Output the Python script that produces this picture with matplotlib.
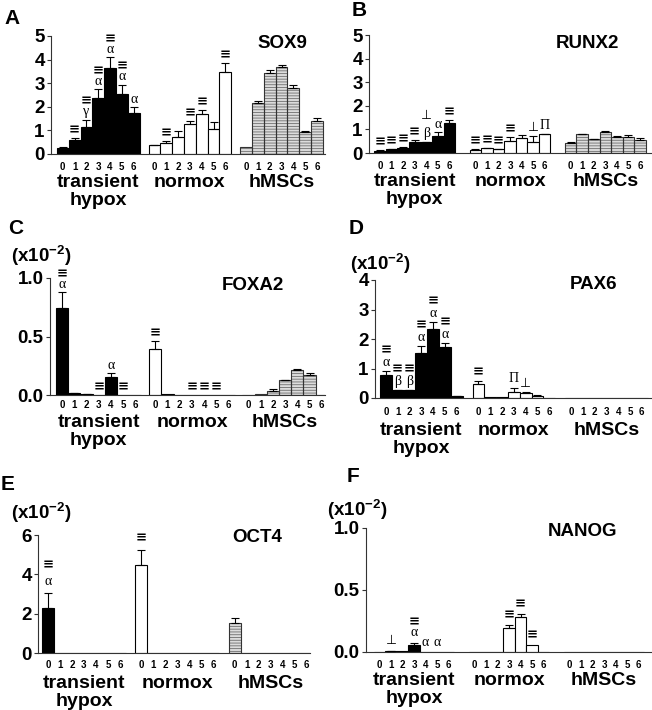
import numpy as np
import matplotlib
matplotlib.use('Agg')
import matplotlib.pyplot as plt

plt.rcParams['font.family'] = ['Liberation Sans', 'DejaVu Sans']
plt.rcParams['font.weight'] = 'bold'
plt.rcParams['mathtext.fontset'] = 'custom'
plt.rcParams['mathtext.rm'] = 'Liberation Sans:bold'
plt.rcParams['mathtext.bf'] = 'Liberation Sans:bold'
plt.rcParams['hatch.linewidth'] = 0.6

days = ['0', '1', '2', '3', '4', '5', '6']
groups = ['transient', 'normox', 'hMSCs']

# SOX9
sox9_trans = [0.25, 0.59, 1.16, 2.36, 3.64, 2.54, 1.74]
sox9_trans_err = [0.03, 0.07, 0.30, 0.38, 0.45, 0.40, 0.24]
sox9_norm = [0.37, 0.45, 0.71, 1.29, 1.68, 1.07, 3.46]
sox9_norm_err = [0.03, 0.10, 0.27, 0.12, 0.17, 0.30, 0.40]
sox9_hmsc = [0.29, 2.14, 3.44, 3.67, 2.78, 0.92, 1.40]
sox9_hmsc_err = [0.0, 0.10, 0.14, 0.11, 0.13, 0.05, 0.11]
sox9_marks_t = [[], ['≡'], ['γ', '≡'], ['α', '≡'], ['α', '≡'], ['α', '≡'], ['α']]
sox9_marks_n = [[], ['≡'], [], ['≡'], ['≡'], [], ['≡']]

# RUNX2
runx2_trans = [0.10, 0.17, 0.22, 0.48, 0.46, 0.74, 1.26]
runx2_trans_err = [0.01, 0.02, 0.02, 0.08, 0.02, 0.14, 0.14]
runx2_norm = [0.14, 0.21, 0.15, 0.49, 0.62, 0.48, 0.79]
runx2_norm_err = [0.02, 0.02, 0.03, 0.17, 0.15, 0.25, 0.02]
runx2_hmsc = [0.43, 0.79, 0.58, 0.88, 0.69, 0.69, 0.55]
runx2_hmsc_err = [0.02, 0.02, 0.01, 0.06, 0.02, 0.06, 0.08]
runx2_marks_t = [['≡'], ['≡'], ['≡'], ['≡'], ['β', '⊥'], ['α'], ['≡']]
runx2_marks_n = [['≡'], ['≡'], ['≡'], ['≡'], [], ['⊥'], ['Π']]

# FOXA2 (x10^-2)
foxa2_trans = [0.74, 0.014, 0.010, 0.0, 0.156, 0.0, 0.0]
foxa2_trans_err = [0.14, 0.003, 0.002, 0.0, 0.03, 0.0, 0.0]
foxa2_norm = [0.39, 0.005, 0.0, 0.0, 0.0, 0.0, 0.0]
foxa2_norm_err = [0.07, 0.0, 0.0, 0.0, 0.0, 0.0, 0.0]
foxa2_hmsc = [0.0, 0.006, 0.037, 0.128, 0.214, 0.171, 0.0]
foxa2_hmsc_err = [0.0, 0.0, 0.012, 0.003, 0.005, 0.02, 0.0]
foxa2_marks_t = [['α', '≡'], [], [], ['≡'], ['α'], ['≡'], []]
foxa2_marks_n = [['≡'], [], [], ['≡'], ['≡'], ['≡'], []]

# PAX6 (x10^-2)
pax6_trans = [0.79, 0.26, 0.26, 1.52, 2.33, 1.72, 0.06]
pax6_trans_err = [0.11, 0.01, 0.01, 0.23, 0.23, 0.14, 0.01]
pax6_norm = [0.47, 0.02, 0.02, 0.22, 0.18, 0.07, 0.0]
pax6_norm_err = [0.09, 0.0, 0.0, 0.13, 0.02, 0.02, 0.0]
pax6_hmsc = [0.0, 0.0, 0.0, 0.0, 0.0, 0.0, 0.0]
pax6_hmsc_err = [0.0, 0.0, 0.0, 0.0, 0.0, 0.0, 0.0]
pax6_marks_t = [['α', '≡'], ['β', '≡'], ['β', '≡'], ['α', '≡'], ['α', '≡'], ['α', '≡'], []]
pax6_marks_n = [['≡'], [], [], ['Π'], ['⊥'], [], []]

# OCT4 (x10^-2)
oct4_trans = [2.31, 0.0, 0.0, 0.0, 0.0, 0.0, 0.0]
oct4_trans_err = [0.72, 0.0, 0.0, 0.0, 0.0, 0.0, 0.0]
oct4_norm = [4.50, 0.0, 0.0, 0.0, 0.0, 0.0, 0.0]
oct4_norm_err = [0.72, 0.0, 0.0, 0.0, 0.0, 0.0, 0.0]
oct4_hmsc = [1.55, 0.0, 0.0, 0.0, 0.0, 0.0, 0.0]
oct4_hmsc_err = [0.24, 0.0, 0.0, 0.0, 0.0, 0.0, 0.0]
oct4_marks_t = [['α', '≡'], [], [], [], [], [], []]
oct4_marks_n = [['≡'], [], [], [], [], [], []]

# NANOG (x10^-2)
nanog_trans = [0.003, 0.008, 0.006, 0.054, 0.0, 0.0, 0.0]
nanog_trans_err = [0.0, 0.003, 0.0, 0.019, 0.0, 0.0, 0.0]
nanog_norm = [0.003, 0.004, 0.004, 0.195, 0.284, 0.054, 0.0]
nanog_norm_err = [0.0, 0.0, 0.0, 0.021, 0.026, 0.0, 0.0]
nanog_hmsc = [0.0, 0.0, 0.0, 0.0, 0.0, 0.0, 0.0]
nanog_hmsc_err = [0.0, 0.0, 0.0, 0.0, 0.0, 0.0, 0.0]
nanog_marks_t = [[], ['⊥'], [], ['α', '≡'], ['α'], ['α'], []]
nanog_marks_n = [[], [], [], ['≡'], ['≡'], ['≡'], []]

W, H = 652, 710
fig = plt.figure(figsize=(W / 100, H / 100), dpi=100)
PT = 72 / 100  # points per pixel


def px_rect(left, top, width, height):
    return [left / W, 1 - (top + height) / H, width / W, height / H]


def draw_mark(ax, s, x, y, dy):
    if s == '≡':
        kw = dict(family='DejaVu Sans', fontsize=9.5, fontweight='bold')
    elif s == '⊥':
        kw = dict(family='DejaVu Sans', fontsize=9, fontweight='normal')
    else:
        kw = dict(family=['Liberation Serif', 'DejaVu Serif'], fontsize=10, fontweight='normal')
    ax.annotate(s, xy=(x, y), xytext=(0, dy * PT), textcoords='offset points',
                ha='center', va='center', color='black', **kw)


def panel(rect, gap, xlim, ylim, yticks, yfmt, gene, gene_pos, series, marks,
          digit_pad, label_off, base=8, step=10.5):
    ax = fig.add_axes(px_rect(*rect))
    styles = ['trans', 'norm', 'hmsc']
    for g, (vals, errs) in enumerate(series):
        x = g * (7 + gap) + np.arange(7)
        vals = np.array(vals)
        errs = np.array(errs)
        if styles[g] == 'trans':
            ax.bar(x, vals, 1.0, color='black', edgecolor='black', lw=0.8, zorder=2)
        elif styles[g] == 'norm':
            ax.bar(x, vals, 1.0, color='white', edgecolor='black', lw=0.8, zorder=2)
        else:
            ax.bar(x, vals, 1.0, color='#dcdcdc', edgecolor='#6e6e6e', lw=0,
                   hatch='------', zorder=2)
            ax.bar(x, vals, 1.0, fill=False, edgecolor='#333333', lw=0.8, zorder=3)
        m = errs > 0
        if m.any():
            ax.errorbar(x[m], vals[m], yerr=[np.zeros(m.sum()), errs[m]], fmt='none',
                        ecolor='black', elinewidth=0.8, capsize=3.2, capthick=0.8, zorder=4)
        if g < 2:
            for i, ms in enumerate(marks[g]):
                for k, s in enumerate(ms):
                    extra = 8 if s == '⊥' and k > 0 else 0
                    draw_mark(ax, s, x[i], vals[i] + errs[i], base + k * step + extra)
        ax.annotate(groups[g], xy=(x[3], 0), xycoords=('data', 'axes fraction'),
                    xytext=(0, -label_off * PT), textcoords='offset points',
                    ha='center', va='baseline', fontsize=14, fontweight='bold')
        if g == 0:
            ax.annotate('hypox', xy=(x[3], 0), xycoords=('data', 'axes fraction'),
                        xytext=(0, -(label_off + 18) * PT), textcoords='offset points',
                        ha='center', va='baseline', fontsize=14, fontweight='bold')
    pos = np.concatenate([g * (7 + gap) + np.arange(7) for g in range(3)])
    ax.set_xticks(pos)
    ax.set_xticklabels(days * 3, fontsize=7, fontweight='bold')
    ax.tick_params(axis='x', length=0, pad=digit_pad * PT)
    ax.set_xlim(*xlim)
    ax.set_ylim(*ylim)
    ax.set_yticks(yticks)
    ax.set_yticklabels([yfmt % v for v in yticks], fontsize=13.5, fontweight='bold')
    ax.tick_params(axis='y', direction='out', length=3 * PT * 1.4, width=0.8, pad=1.5,
                   color='#333333')
    for sp in ['top', 'right']:
        ax.spines[sp].set_visible(False)
    for sp in ['left', 'bottom']:
        ax.spines[sp].set_color('#333333')
        ax.spines[sp].set_linewidth(0.8)
    ax.text(gene_pos[0], gene_pos[1], gene, transform=ax.transAxes, ha='center',
            va='center', fontsize=13.5, fontweight='bold')
    return ax


panel((51, 36, 274, 118), 0.76, (-1.0, 22.2), (0, 5), [0, 1, 2, 3, 4, 5], '%d',
      'SOX9', (0.843, 0.94),
      [(sox9_trans, sox9_trans_err), (sox9_norm, sox9_norm_err), (sox9_hmsc, sox9_hmsc_err)],
      [sox9_marks_t, sox9_marks_n], 7.7, 33)
panel((369, 35, 282, 118), 1.25, (-0.95, 23.45), (0, 5), [0, 1, 2, 3, 4, 5], '%d',
      'RUNX2', (0.773, 0.93),
      [(runx2_trans, runx2_trans_err), (runx2_norm, runx2_norm_err), (runx2_hmsc, runx2_hmsc_err)],
      [runx2_marks_t, runx2_marks_n], 7.7, 33)
panel((50, 278, 275, 117), 0.64, (-1.0, 21.55), (0, 1), [0, 0.5, 1.0], '%.1f',
      'FOXA2', (0.738, 0.94),
      [(foxa2_trans, foxa2_trans_err), (foxa2_norm, foxa2_norm_err), (foxa2_hmsc, foxa2_hmsc_err)],
      [foxa2_marks_t, foxa2_marks_n], 5, 32)
panel((375, 280, 276, 118), 0.85, (-0.92, 22.48), (0, 4), [0, 1, 2, 3, 4], '%d',
      'PAX6', (0.793, 0.958),
      [(pax6_trans, pax6_trans_err), (pax6_norm, pax6_norm_err), (pax6_hmsc, pax6_hmsc_err)],
      [pax6_marks_t, pax6_marks_n], 8.7, 37, base=9, step=12)
panel((38, 535, 272, 118), 0.78, (-0.83, 21.84), (0, 6), [0, 2, 4, 6], '%d',
      'OCT4', (0.805, 0.975),
      [(oct4_trans, oct4_trans_err), (oct4_norm, oct4_norm_err), (oct4_hmsc, oct4_hmsc_err)],
      [oct4_marks_t, oct4_marks_n], 7, 35, base=12, step=16)
panel((366, 528, 285, 124), 1.26, (-1.17, 23.6), (0, 1), [0, 0.5, 1.0], '%.1f',
      'NANOG', (0.76, 0.97),
      [(nanog_trans, nanog_trans_err), (nanog_norm, nanog_norm_err), (nanog_hmsc, nanog_hmsc_err)],
      [nanog_marks_t, nanog_marks_n], 8, 33, base=10, step=11)

# panel letters
for letter, (lx, ly) in zip('ABCDEF', [(12, 18), (359, 11), (16, 228), (356, 228),
                                      (8, 485), (353, 477)]):
    fig.text(lx / W, 1 - ly / H, letter, ha='center', va='center', fontsize=15,
             fontweight='bold')

# scale labels
for sx, sy in [(41, 256), (380, 264), (41, 513), (357, 510)]:
    fig.text(sx / W, 1 - sy / H, r'(x10$^{\mathbf{-2}}$)', ha='center', va='center',
             fontsize=13.5, fontweight='bold')

fig.savefig('out.png', dpi=100)
